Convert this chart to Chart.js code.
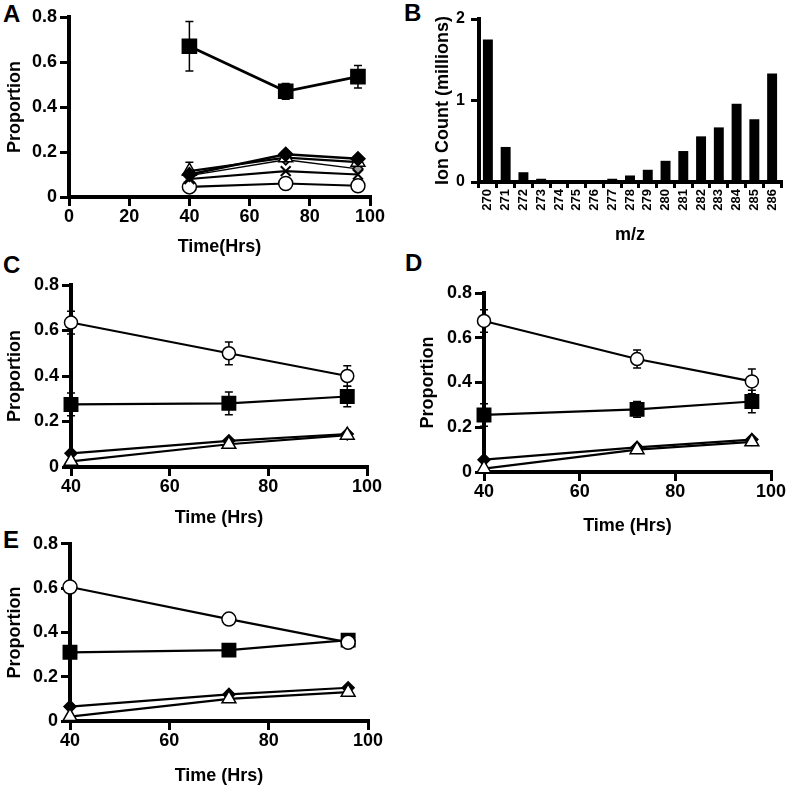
<!DOCTYPE html>
<html lang="en">
<head>
<meta charset="UTF-8">
<title>Proportion over time and ion counts</title>
<script src="https://cdn.jsdelivr.net/npm/chart.js"></script>
<style>
    body {
        margin: 0;
        width: 789px;
        height: 787px;
        position: relative;
        overflow: hidden;
        background: #fff;
        font-family: 'Liberation Sans', Arial, sans-serif;
    }
    canvas { position: absolute; }
    .tag {
        position: absolute;
        font-weight: bold;
        font-size: 24px;
        line-height: 1;
        color: #000;
    }
</style>
</head>
<body>
<div class="tag" style="left:3px;top:2px">A</div>
<div class="tag" style="left:404px;top:1px">B</div>
<div class="tag" style="left:3px;top:253px">C</div>
<div class="tag" style="left:405px;top:251px">D</div>
<div class="tag" style="left:3px;top:528px">E</div>

<canvas id="chartA" width="395" height="260" style="left:0;top:0"></canvas>
<canvas id="chartB" width="394" height="250" style="left:395px;top:0"></canvas>
<canvas id="chartC" width="395" height="275" style="left:0;top:255px"></canvas>
<canvas id="chartD" width="394" height="282" style="left:395px;top:255px"></canvas>
<canvas id="chartE" width="395" height="257" style="left:0;top:530px"></canvas>

<script>
    // sampling times (hours)
    const hours = [40, 72, 96];

    // panel A
    const aSquare = [0.67, 0.47, 0.535];
    const aSquareErr = [0.11, 0.035, 0.05];
    const aDiamond = [0.10, 0.19, 0.17];
    const aTriangle = [0.115, 0.175, 0.155];
    const aTriangleErr = [0.04, 0, 0];
    const aStar = [0.095, 0.165, 0.125];
    const aCross = [0.08, 0.115, 0.10];
    const aCircle = [0.045, 0.06, 0.05];

    // panel B
    const mzLabels = ['270', '271', '272', '273', '274', '275', '276', '277', '278',
                      '279', '280', '281', '282', '283', '284', '285', '286'];
    const ionCounts = [1.75, 0.43, 0.12, 0.04, 0, 0, 0, 0.04, 0.08,
                       0.15, 0.26, 0.38, 0.56, 0.67, 0.96, 0.77, 1.33];

    // panel C
    const cCircle = [0.635, 0.50, 0.40];
    const cCircleErr = [0.05, 0.05, 0.045];
    const cSquare = [0.275, 0.28, 0.31];
    const cSquareErr = [0.05, 0.05, 0.045];
    const cDiamond = [0.06, 0.115, 0.145];
    const cTriangle = [0.025, 0.10, 0.14];

    // panel D
    const dCircle = [0.675, 0.505, 0.405];
    const dCircleErr = [0.05, 0.04, 0.055];
    const dSquare = [0.255, 0.28, 0.315];
    const dSquareErr = [0.05, 0.035, 0.05];
    const dDiamond = [0.055, 0.11, 0.145];
    const dTriangle = [0.015, 0.10, 0.135];

    // panel E
    const eCircle = [0.605, 0.46, 0.355];
    const eSquare = [0.31, 0.32, 0.365];
    const eDiamond = [0.065, 0.12, 0.15];
    const eTriangle = [0.02, 0.10, 0.13];

    const FONT = "'Liberation Sans', Arial, sans-serif";
    const tickFont = { family: FONT, size: 18, weight: 'bold' };
    const titleFont = { family: FONT, size: 18, weight: 'bold' };

    // vertical error bars with caps, drawn under the lines
    const errorBars = {
        id: 'errorBars',
        beforeDatasetsDraw(chart) {
            const { ctx } = chart;
            const x = chart.scales.x, y = chart.scales.y;
            ctx.save();
            ctx.strokeStyle = '#000';
            ctx.lineWidth = 1.5;
            chart.data.datasets.forEach(ds => {
                if (!ds.errors) return;
                ds.data.forEach((p, i) => {
                    const e = ds.errors[i];
                    if (!e) return;
                    const px = x.getPixelForValue(p.x);
                    const top = y.getPixelForValue(p.y + e);
                    const bot = y.getPixelForValue(p.y - e);
                    ctx.beginPath();
                    ctx.moveTo(px, top); ctx.lineTo(px, bot);
                    ctx.moveTo(px - 4, top); ctx.lineTo(px + 4, top);
                    ctx.moveTo(px - 4, bot); ctx.lineTo(px + 4, bot);
                    ctx.stroke();
                });
            });
            ctx.restore();
        }
    };

    // first dataset in a list ends up drawn on top
    function series(values, style, fill, radius, extra) {
        return Object.assign({
            data: hours.map((h, i) => ({ x: h, y: values[i] })),
            borderColor: '#000',
            borderWidth: 2.2,
            pointStyle: style,
            pointRadius: radius,
            pointBackgroundColor: fill,
            pointBorderColor: '#000',
            pointBorderWidth: 1.5,
            tension: 0,
            clip: false
        }, extra || {});
    }

    function axisGrid(len) {
        return { display: true, drawOnChartArea: false, drawTicks: true, color: '#000', tickColor: '#000',
                 lineWidth: 3, tickLength: len, tickWidth: 3 };
    }
    const axisBorder = { display: true, color: '#000', width: 4 };

    function timeChart(id, datasets, L) {
        return new Chart(document.getElementById(id), {
            type: 'line',
            data: { datasets: datasets },
            options: {
                responsive: false,
                animation: false,
                events: [],
                devicePixelRatio: 1,
                layout: { padding: { top: L.top, right: L.right, left: 0, bottom: 0 } },
                plugins: { legend: { display: false }, tooltip: { enabled: false } },
                scales: {
                    x: {
                        type: 'linear',
                        min: L.xMin,
                        max: 100,
                        ticks: { stepSize: 20, color: '#000', font: tickFont, padding: 0 },
                        grid: axisGrid(9),
                        border: axisBorder,
                        title: { display: true, text: L.xTitle, color: '#000', font: titleFont,
                                 padding: { top: 0, bottom: L.xTitlePad } },
                        afterFit: s => { s.height = L.xH; }
                    },
                    y: {
                        min: 0,
                        max: 0.8,
                        ticks: { stepSize: 0.2, color: '#000', font: tickFont, padding: 3 },
                        grid: axisGrid(9),
                        border: axisBorder,
                        title: { display: true, text: 'Proportion', color: '#000', font: titleFont,
                                 padding: { top: L.yTitlePad, bottom: 0 } },
                        afterFit: s => { s.width = L.yW; }
                    }
                }
            },
            plugins: [errorBars]
        });
    }

    // A
    timeChart('chartA', [
        series(aSquare, 'rect', '#000', 10, { borderWidth: 2.8, errors: aSquareErr }),
        series(aDiamond, 'rectRot', '#000', 7, { borderWidth: 2.5 }),
        series(aTriangle, 'triangle', '#fff', 8, { errors: aTriangleErr }),
        series(aStar, 'rectRot', '#999', 5, { borderWidth: 1.5 }),
        series(aCross, 'crossRot', '#000', 7, { pointBorderWidth: 2 }),
        series(aCircle, 'circle', '#fff', 7)
    ], { top: 17, right: 25, yW: 69, xH: 63, xMin: 0, xTitle: 'Time(Hrs)', xTitlePad: 2, yTitlePad: 4 });

    // C
    timeChart('chartC', [
        series(cTriangle, 'triangle', '#fff', 8),
        series(cDiamond, 'rectRot', '#000', 6),
        series(cCircle, 'circle', '#fff', 6.5, { errors: cCircleErr }),
        series(cSquare, 'rect', '#000', 9.5, { errors: cSquareErr })
    ], { top: 30, right: 28, yW: 71, xH: 63, xMin: 40, xTitle: 'Time (Hrs)', xTitlePad: 1, yTitlePad: 4 });

    // D
    timeChart('chartD', [
        series(dTriangle, 'triangle', '#fff', 8),
        series(dDiamond, 'rectRot', '#000', 6),
        series(dCircle, 'circle', '#fff', 6.5, { errors: dCircleErr }),
        series(dSquare, 'rect', '#000', 9.5, { errors: dSquareErr })
    ], { top: 38, right: 18, yW: 89, xH: 65, xMin: 40, xTitle: 'Time (Hrs)', xTitlePad: 0, yTitlePad: 22 });

    // E
    timeChart('chartE', [
        series(eTriangle, 'triangle', '#fff', 8),
        series(eDiamond, 'rectRot', '#000', 6),
        series(eCircle, 'circle', '#fff', 7),
        series(eSquare, 'rect', '#000', 9.5)
    ], { top: 13, right: 27, yW: 70, xH: 66, xMin: 40, xTitle: 'Time (Hrs)', xTitlePad: 0, yTitlePad: 4 });

    // B: ion counts by m/z
    new Chart(document.getElementById('chartB'), {
        type: 'bar',
        data: {
            labels: mzLabels,
            datasets: [{
                data: ionCounts,
                backgroundColor: '#000',
                barPercentage: 0.56,
                categoryPercentage: 1
            }]
        },
        options: {
            responsive: false,
            animation: false,
            events: [],
            devicePixelRatio: 1,
            layout: { padding: { top: 19, right: 8, left: 0, bottom: 0 } },
            plugins: { legend: { display: false }, tooltip: { enabled: false } },
            scales: {
                x: {
                    ticks: { color: '#000', font: { family: FONT, size: 13, weight: 'bold' },
                             minRotation: 90, maxRotation: 90, autoSkip: false, padding: 1 },
                    grid: axisGrid(6),
                    border: axisBorder,
                    title: { display: true, text: 'm/z', color: '#000', font: titleFont,
                             padding: { top: 0, bottom: 4 } },
                    afterFit: s => { s.height = 68; }
                },
                y: {
                    min: 0,
                    max: 2,
                    ticks: { stepSize: 1, color: '#000', font: { family: FONT, size: 16, weight: 'bold' }, padding: 6 },
                    grid: axisGrid(8),
                    border: axisBorder,
                    title: { display: true, text: 'Ion Count (millions)', color: '#000', font: titleFont,
                             padding: { top: 37, bottom: 0 } },
                    afterFit: s => { s.width = 84; }
                }
            }
        }
    });
</script>
</body>
</html>
